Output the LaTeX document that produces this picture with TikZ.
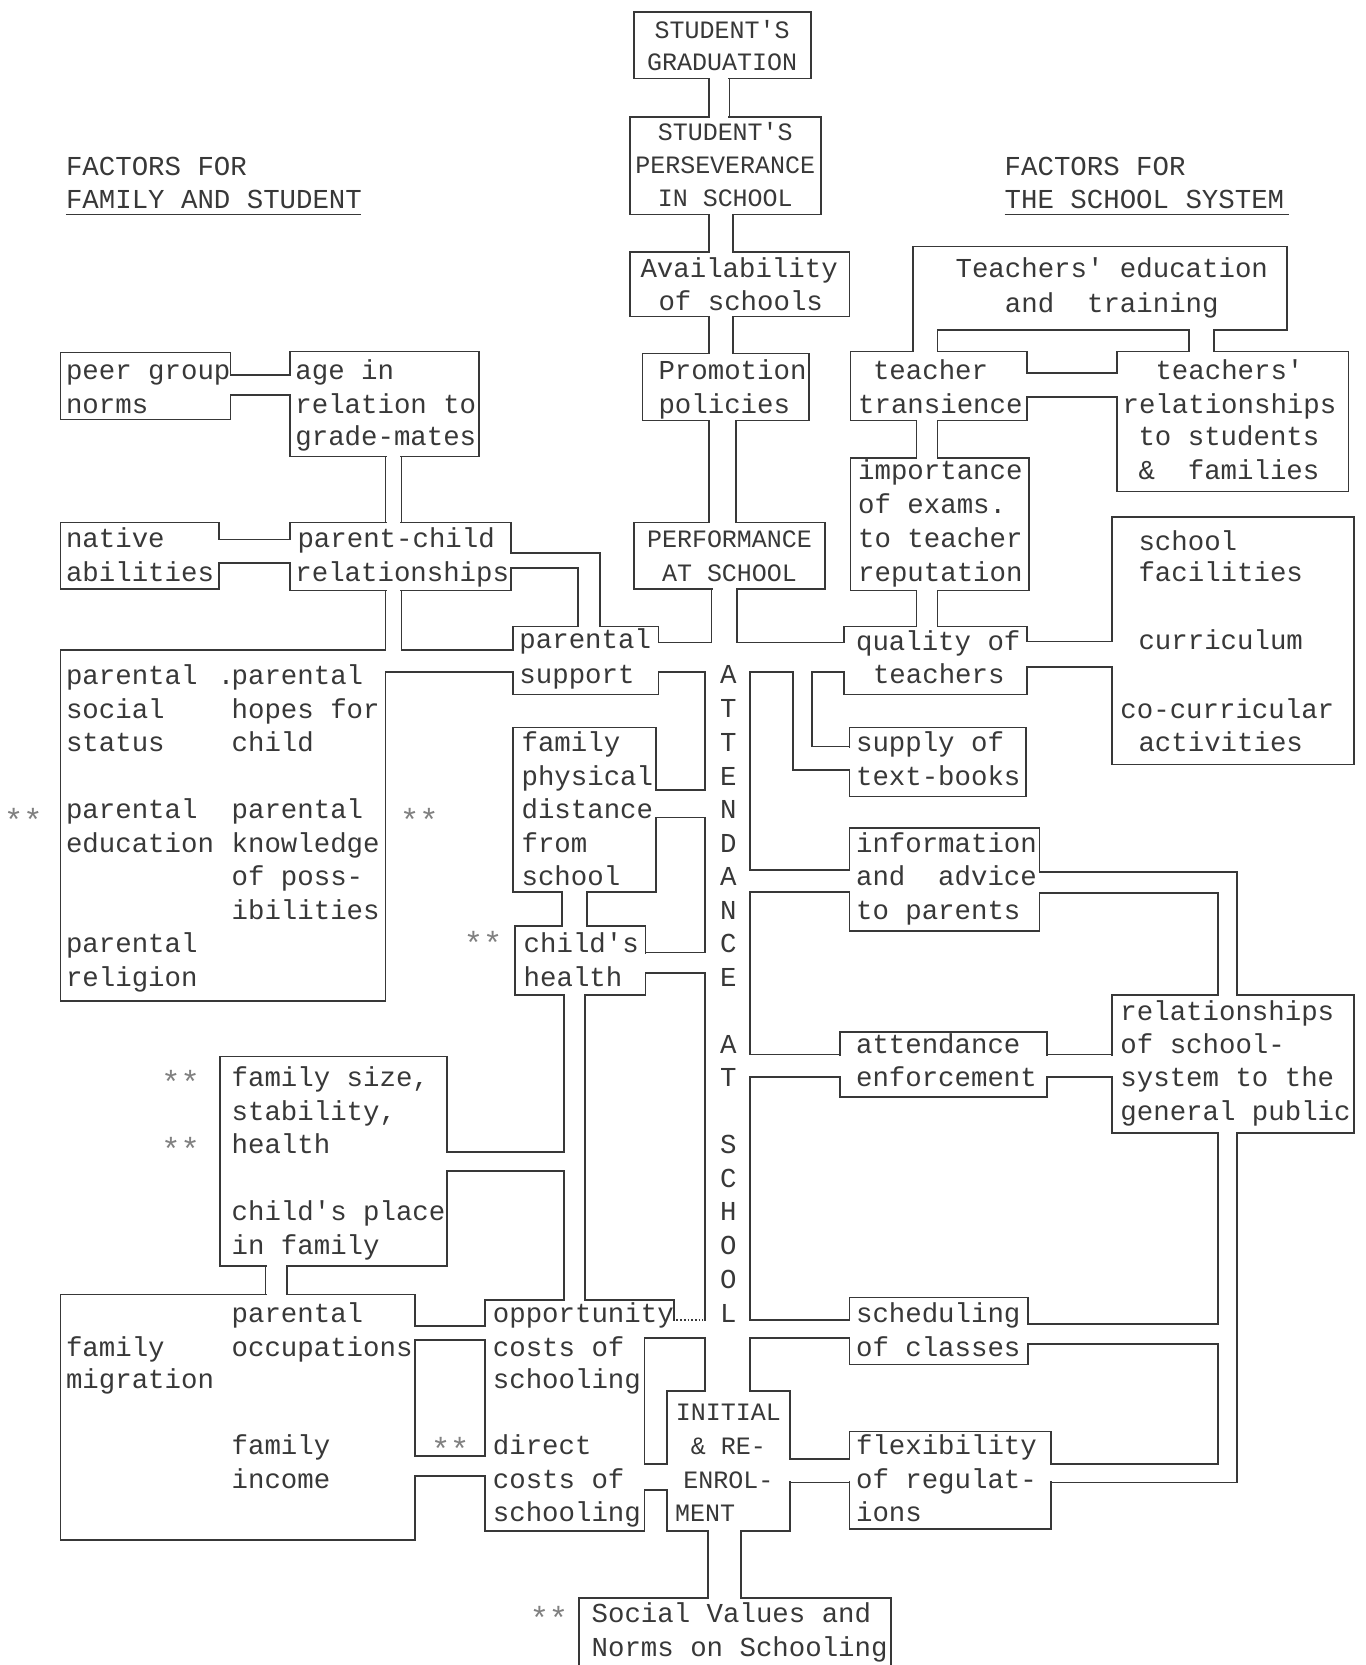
\documentclass[tikz,border=0pt]{standalone}
\usepackage{fontspec}
\newfontfamily\tw{Liberation Mono}[Ligatures=TeXOff]
\usetikzlibrary{fit}
\definecolor{ink}{HTML}{383838}
\newcounter{tn}
\newcommand\tx[3]{\stepcounter{tn}\node[txt,anchor=base west] (t\arabic{tn}) at (#1,#2+8) {#3};}
\newcommand\tc[3]{\stepcounter{tn}\node[captxt,anchor=base] (t\arabic{tn}) at (#1,#2+8) {#3};}
\newcommand\tl[3]{\stepcounter{tn}\node[txt,anchor=base] (t\arabic{tn}) at (#1,#2+8) {#3};}
\newcommand\st[2]{\stepcounter{tn}\node[startxt,anchor=base] (t\arabic{tn}) at (#1,#2+15) {**};}
\newcommand\bx[5]{\node[boxst, fit={(#2,#3)(#4,#5)}] (#1) {};}
\newcommand\gv[3]{\fill[white] ({#1-2.5},{#2+1}) rectangle ({#1+2.5},{#3-1});}
\newcommand\gh[3]{\fill[white] ({#2+1},{#1-2.5}) rectangle ({#3-1},{#1+2.5});}
\begin{document}
\begin{tikzpicture}[x=1.0622pt,y=-1.0622pt,
  boxst/.style={draw=ink, inner sep=0pt, line width=1.7pt},
  wall/.style={draw=ink, line width=1.7pt, line cap=rect, line join=miter},
  txt/.style={font=\tw\fontsize{27.4}{33}\selectfont, text=ink, inner sep=0pt},
  captxt/.style={font=\tw\fontsize{25}{33}\selectfont, text=ink, inner sep=0pt},
  startxt/.style={font=\tw\fontsize{32}{36}\selectfont, text=black!50, inner sep=0pt}]
\useasboundingbox[fill=white] (0,0) rectangle (1286,1568);
% ---------------- boxes
\bx{grad}{597}{11}{764}{74}
\bx{pers}{593}{110}{773}{202}
\bx{avail}{593}{237}{800}{298}
\bx{promo}{605}{333}{762}{396}
\bx{perf}{597}{492}{777}{555}
\bx{teached}{860}{232}{1212}{311}
\bx{teach}{801}{331}{967}{396}
\bx{trel}{1052}{331}{1270}{463}
\bx{impt}{801}{431}{969}{556}
\bx{qual}{795}{590}{967}{654}
\bx{supply}{800}{685}{966}{750}
\bx{sfc}{1047}{487}{1275}{720}
\bx{info}{800}{780}{979}{877}
\bx{attenf}{791}{972}{986}{1033}
\bx{rel2}{1047}{937}{1275}{1067}
\bx{sched}{800}{1222}{968}{1285}
\bx{flex}{800}{1348}{990}{1440}
\bx{init}{628}{1310}{744}{1442}
\bx{sv}{545}{1505}{839}{1580}
\bx{peer}{57}{332}{217}{395}
\bx{age}{273}{331}{451}{430}
\bx{native}{57}{492}{206}{555}
\bx{pc}{273}{492}{481}{556}
\bx{supp}{483}{590}{620}{654}
\bx{pl}{57}{612}{363}{943}
\bx{fam}{483}{685}{618}{840}
\bx{chh}{485}{872}{608}{937}
\bx{fs}{207}{995}{421}{1192}
\bx{od}{457}{1224}{607}{1442}
\bx{bl}{57}{1219}{391}{1450}
% ---------------- openings
\gh{74}{668}{687}\gh{110}{668}{687}
\gh{202}{668}{690}\gh{237}{668}{690}
\gh{298}{668}{690}\gh{333}{668}{690}
\gh{396}{668}{693}\gh{492}{668}{693}
\gh{555}{670}{694}
\gv{620}{605}{633}\gv{795}{605}{633}
\gv{618}{744}{770}\gv{608}{897}{916}
\gh{1310}{664}{706}
\gv{800}{703}{725}\gv{800}{819}{840}
\gv{791}{993}{1014}\gv{800}{1243}{1260}
\gh{311}{860}{883}\gh{311}{1120}{1143}
\gh{331}{860}{883}\gh{331}{1120}{1143}
\gv{967}{351}{374}\gv{1052}{351}{374}
\gh{396}{863}{883}\gh{431}{863}{883}
\gh{556}{863}{883}\gh{590}{863}{883}
\gv{967}{604}{628}\gv{1047}{604}{628}
\gv{979}{821}{841}\gh{937}{1147}{1165}
\gv{986}{993}{1014}\gv{1047}{993}{1014}
\gh{1067}{1147}{1165}
\gv{968}{1247}{1266}\gv{990}{1379}{1396}
\gv{744}{1374}{1396}\gv{800}{1374}{1396}
\gv{628}{1379}{1403}
\gv{607}{1224}{1260}\gv{607}{1379}{1403}
\gh{1442}{667}{698}\gh{1505}{667}{698}
\gv{217}{353}{372}\gv{273}{353}{372}
\gh{430}{363}{378}\gh{492}{363}{378}
\gv{206}{508}{530}\gv{273}{508}{530}
\gv{481}{521}{535}\gh{590}{544}{565}
\gh{556}{363}{378}
\gv{363}{612}{633}\gv{483}{612}{633}
\gh{840}{529}{553}\gh{872}{529}{553}
\gh{937}{531}{551}\gh{1224}{531}{551}
\gv{421}{1085}{1103}
\gh{1192}{250}{270}\gh{1219}{250}{270}
\gv{391}{1249}{1262}\gv{391}{1371}{1390}
\gv{457}{1249}{1262}\gv{457}{1371}{1390}
% ---------------- pipes (walls)
\begin{scope}[wall]
% central chain
\draw (668,74)--(668,110); \draw (687,74)--(687,110);
\draw (668,202)--(668,237); \draw (690,202)--(690,237);
\draw (668,298)--(668,333); \draw (690,298)--(690,333);
\draw (668,396)--(668,492); \draw (693,396)--(693,492);
\draw (670,555)--(670,605)--(620,605);
\draw (694,555)--(694,605)--(795,605);
% attendance channel, left wall
\draw (620,633)--(664,633)--(664,744)--(618,744);
\draw (618,770)--(664,770)--(664,897)--(608,897);
\draw (608,916)--(664,916)--(664,1243);
\draw (607,1224)--(635,1224)--(635,1243);
\draw (607,1260)--(664,1260)--(664,1310);
% attendance channel, right wall
\draw (795,633)--(765,633)--(765,703)--(800,703);
\draw (800,725)--(747,725)--(747,633)--(706,633)--(706,819)--(800,819);
\draw (800,840)--(706,840)--(706,993)--(791,993);
\draw (791,1014)--(706,1014)--(706,1243)--(800,1243);
\draw (800,1260)--(706,1260)--(706,1310);
% school system side
\draw (860,311)--(860,331); \draw (883,311)--(883,331);
\draw (1120,311)--(1120,331); \draw (1143,311)--(1143,331);
\draw (967,351)--(1052,351); \draw (967,374)--(1052,374);
\draw (863,396)--(863,431); \draw (883,396)--(883,431);
\draw (863,556)--(863,590); \draw (883,556)--(883,590);
\draw (967,604)--(1047,604); \draw (967,628)--(1047,628);
\draw (979,821)--(1165,821)--(1165,937);
\draw (979,841)--(1147,841)--(1147,937);
\draw (986,993)--(1047,993); \draw (986,1014)--(1047,1014);
\draw (1147,1067)--(1147,1247)--(968,1247);
\draw (968,1266)--(1147,1266)--(1147,1379)--(990,1379);
\draw (1165,1067)--(1165,1396)--(990,1396);
\draw (744,1374)--(800,1374); \draw (744,1396)--(800,1396);
\draw (607,1379)--(628,1379); \draw (607,1403)--(628,1403);
\draw (667,1442)--(667,1505); \draw (698,1442)--(698,1505);
% family side
\draw (217,353)--(273,353); \draw (217,372)--(273,372);
\draw (363,430)--(363,492); \draw (378,430)--(378,492);
\draw (206,508)--(273,508); \draw (206,530)--(273,530);
\draw (481,521)--(565,521)--(565,590);
\draw (481,535)--(544,535)--(544,590);
\draw (363,556)--(363,612);
\draw (378,556)--(378,612)--(483,612);
\draw (363,633)--(483,633);
\draw (529,840)--(529,872); \draw (553,840)--(553,872);
\draw (531,937)--(531,1085)--(421,1085);
\draw (421,1103)--(531,1103)--(531,1224);
\draw (551,937)--(551,1224);
\draw (250,1192)--(250,1219); \draw (270,1192)--(270,1219);
\draw (391,1249)--(457,1249); \draw (391,1262)--(457,1262);
\draw (391,1371)--(457,1371); \draw (391,1390)--(457,1390);
\end{scope}
\draw[ink, line width=1.7pt, dotted] (637,1243)--(662,1243);
% header underlines
\draw[ink, line width=1.6pt] (62,202)--(340,202);
\draw[ink, line width=1.6pt] (946,202)--(1214,202);
% ---------------- texts
\tx{62}{157}{FACTORS FOR}
\tx{62}{188}{FAMILY AND STUDENT}
\tx{946}{157}{FACTORS FOR}
\tx{946}{188}{THE SCHOOL SYSTEM}
\tc{680}{28}{STUDENT'S}
\tc{680}{58}{GRADUATION}
\tc{683}{124}{STUDENT'S}
\tc{683}{155}{PERSEVERANCE}
\tc{683}{186}{IN SCHOOL}
\tx{603}{253}{Availability}
\tx{620}{284}{of schools}
\tx{620}{349}{Promotion}
\tx{620}{381}{policies}
\tc{687}{508}{PERFORMANCE}
\tc{687}{540}{AT SCHOOL}
\tl{1047}{253}{Teachers' education}
\tl{1047}{286}{and~~training}
\tx{822}{349}{teacher}
\tx{808}{381}{transience}
\tx{1088}{349}{teachers'}
\tx{1057}{381}{relationships}
\tx{1072}{412}{to students}
\tx{1072}{444}{\&~~families}
\tx{808}{444}{importance}
\tx{808}{476}{of exams.}
\tx{808}{508}{to teacher}
\tx{808}{540}{reputation}
\tx{806}{605}{quality of}
\tx{822}{636}{teachers}
\tx{806}{700}{supply of}
\tx{806}{732}{text-books}
\tx{1072}{510}{school}
\tx{1072}{540}{facilities}
\tx{1072}{604}{curriculum}
\tx{1055}{669}{co-curricular}
\tx{1072}{700}{activities}
\tx{806}{795}{information}
\tx{806}{826}{and~~advice}
\tx{806}{858}{to parents}
\tx{806}{984}{attendance}
\tx{806}{1015}{enforcement}
\tx{1055}{953}{relationships}
\tx{1055}{984}{of school-}
\tx{1055}{1015}{system to the}
\tx{1055}{1047}{general public}
\tx{806}{1237}{scheduling}
\tx{806}{1269}{of classes}
\tx{806}{1362}{flexibility}
\tx{806}{1394}{of regulat-}
\tx{806}{1425}{ions}
\tc{686}{1330}{INITIAL}
\tc{686}{1362}{\& RE-}
\tc{686}{1394}{ENROL-}
\tc{664}{1425}{MENT}
\tx{557}{1520}{Social Values and}
\tx{557}{1552}{Norms on Schooling}
\tx{62}{349}{peer group}
\tx{62}{381}{norms}
\tx{278}{349}{age in}
\tx{278}{381}{relation to}
\tx{278}{412}{grade-mates}
\tx{62}{508}{native}
\tx{62}{540}{abilities}
\tx{280}{508}{parent-child}
\tx{278}{540}{relationships}
\tx{489}{603}{parental}
\tx{489}{636}{support}
\tx{62}{637}{parental}
\tx{62}{669}{social}
\tx{62}{700}{status}
\tx{62}{763}{parental}
\tx{62}{795}{education}
\tx{62}{889}{parental}
\tx{62}{921}{religion}
\tx{205}{637}{.}
\tx{218}{637}{parental}
\tx{218}{669}{hopes for}
\tx{218}{700}{child}
\tx{218}{763}{parental}
\tx{218}{795}{knowledge}
\tx{218}{826}{of poss-}
\tx{218}{858}{ibilities}
\tx{491}{700}{family}
\tx{491}{732}{physical}
\tx{491}{763}{distance}
\tx{491}{795}{from}
\tx{491}{826}{school}
\tx{493}{889}{child's}
\tx{493}{921}{health}
\tx{218}{1015}{family size,}
\tx{218}{1047}{stability,}
\tx{218}{1078}{health}
\tx{218}{1141}{child's place}
\tx{218}{1173}{in family}
\tx{218}{1237}{parental}
\tx{218}{1269}{occupations}
\tx{62}{1269}{family}
\tx{62}{1300}{migration}
\tx{218}{1362}{family}
\tx{218}{1394}{income}
\tx{464}{1237}{opportunity}
\tx{464}{1269}{costs of}
\tx{464}{1300}{schooling}
\tx{464}{1362}{direct}
\tx{464}{1394}{costs of}
\tx{464}{1425}{schooling}
% ATTENDANCE AT SCHOOL
\foreach \L/\Y in {A/636,T/668,T/700,E/732,N/763,D/795,A/826,N/858,C/889,E/921,A/984,T/1015,S/1078,C/1110,H/1141,O/1173,O/1205,L/1237}
  {\tl{686}{\Y}{\L}}
% stars
\st{22}{768}\st{395}{768}\st{455}{884}\st{170}{1015}\st{170}{1078}\st{424}{1360}\st{517}{1520}
\end{tikzpicture}
\end{document}
